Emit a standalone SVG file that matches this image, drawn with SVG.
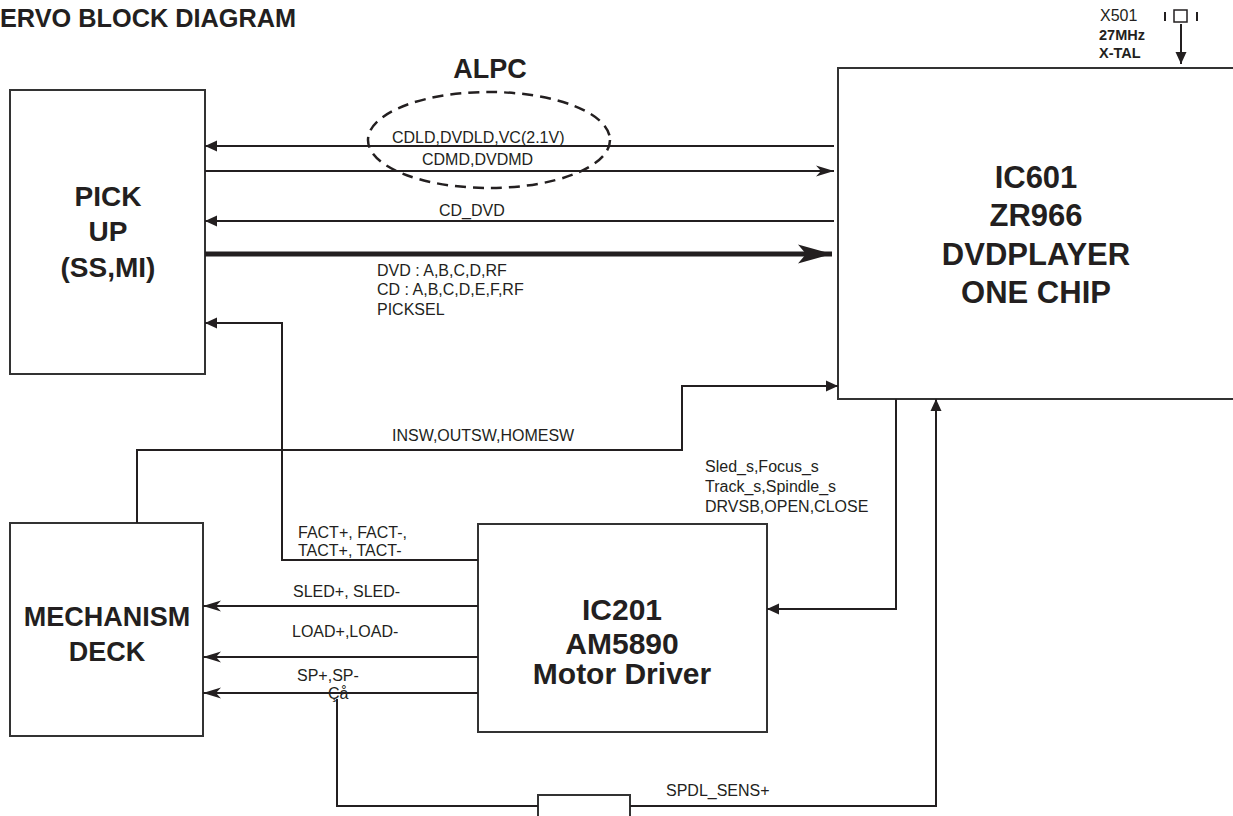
<svg xmlns="http://www.w3.org/2000/svg" width="1233" height="816" viewBox="0 0 1233 816">
<style>
.box{fill:none;stroke:#333;stroke-width:2}
.ln{fill:none;stroke:#231f20;stroke-width:2}
.thick{fill:none;stroke:#231f20;stroke-width:5}
.t{font-family:"Liberation Sans",Arial,sans-serif;font-size:16px;fill:#231f20}
.b{font-family:"Liberation Sans",Arial,sans-serif;font-weight:bold;fill:#231f20}
</style>
<defs>
<marker id="tri" markerUnits="userSpaceOnUse" markerWidth="14" markerHeight="14" viewBox="0 -7 14 14" refX="12" refY="0" orient="auto">
<path d="M0,-5.5 L12,0 L0,5.5 Z" fill="#231f20"/>
</marker>
<marker id="sw" markerUnits="userSpaceOnUse" markerWidth="20" markerHeight="14" viewBox="0 -7 20 14" refX="18" refY="0" orient="auto">
<path d="M0,-5.5 L18,0 L0,5.5 L5,0 Z" fill="#231f20"/>
</marker>
<marker id="swT" markerUnits="userSpaceOnUse" markerWidth="36" markerHeight="22" viewBox="0 -11 36 22" refX="34" refY="0" orient="auto">
<path d="M0,-9.5 L34,0 L0,9.5 L8,0 Z" fill="#231f20"/>
</marker>
</defs>
<text class="b" x="0" y="27" font-size="25.3">ERVO BLOCK DIAGRAM</text>
<g id="pickup">
<rect class="box" x="10" y="90" width="195" height="284"/>
<text class="b" font-size="28" text-anchor="middle" x="108" y="206">PICK</text>
<text class="b" font-size="28" text-anchor="middle" x="108" y="241">UP</text>
<text class="b" font-size="28" text-anchor="middle" x="108" y="277">(SS,MI)</text>
</g>
<g id="ic601">
<path class="box" d="M1240,68 H838 V399 H1240"/>
<text class="b" font-size="31" text-anchor="middle" x="1036" y="188">IC601</text>
<text class="b" font-size="31" text-anchor="middle" x="1036" y="226">ZR966</text>
<text class="b" font-size="31" text-anchor="middle" x="1036" y="265">DVDPLAYER</text>
<text class="b" font-size="31" text-anchor="middle" x="1036" y="303">ONE CHIP</text>
</g>
<g id="mech">
<rect class="box" x="10" y="523" width="193" height="213"/>
<text class="b" font-size="27" text-anchor="middle" x="107" y="626">MECHANISM</text>
<text class="b" font-size="27" text-anchor="middle" x="107" y="661">DECK</text>
</g>
<g id="ic201">
<rect class="box" x="478" y="524" width="289" height="208"/>
<text class="b" font-size="30" text-anchor="middle" x="622" y="620">IC201</text>
<text class="b" font-size="30" text-anchor="middle" x="622" y="654">AM5890</text>
<text class="b" font-size="30" text-anchor="middle" x="622" y="684">Motor Driver</text>
</g>
<g id="sensor">
<rect class="box" x="538" y="795" width="92" height="30"/>
</g>
<g id="xtal">
<text class="t" x="1100" y="21" font-size="15">X501</text>
<text class="b" x="1099" y="40" font-size="14.5">27MHz</text>
<text class="b" x="1099" y="58" font-size="14.5">X-TAL</text>
<line class="ln" x1="1165" y1="12" x2="1165" y2="21" stroke-width="1.5"/>
<rect x="1174" y="10" width="13" height="12" fill="none" stroke="#231f20" stroke-width="1.5"/>
<line class="ln" x1="1197" y1="12" x2="1197" y2="21" stroke-width="1.5"/>
</g>
<g id="alpc">
<text class="b" font-size="27" text-anchor="middle" x="490" y="78">ALPC</text>
<ellipse cx="489" cy="140" rx="121" ry="48" fill="none" stroke="#231f20" stroke-width="2.5" stroke-dasharray="11,7"/>
</g>
<g id="connectors">
<path class="ln" d="M834,146 H205" marker-end="url(#tri)"/>
<path class="ln" d="M205,171 H834" marker-end="url(#sw)"/>
<path class="ln" d="M834,221 H205" marker-end="url(#tri)"/>
<path class="thick" d="M205,254 H832" marker-end="url(#swT)"/>
<path class="ln" d="M478,560 H282 V323 H205" marker-end="url(#tri)"/>
<path class="ln" d="M137,523 V450 H682 V386 H838" marker-end="url(#tri)"/>
<path class="ln" d="M896,399 V609 H767" marker-end="url(#tri)"/>
<path class="ln" d="M337,699 V806 H538"/>
<path class="ln" d="M630,806 H936 V399" marker-end="url(#tri)"/>
<path class="ln" d="M478,606 H203" marker-end="url(#sw)"/>
<path class="ln" d="M478,657 H203" marker-end="url(#sw)"/>
<path class="ln" d="M478,693 H203" marker-end="url(#sw)"/>
<path class="ln" d="M1181,24 V64" marker-end="url(#tri)"/>
</g>
<g id="labels">
<text class="t" x="392" y="143">CDLD,DVDLD,VC(2.1V)</text>
<text class="t" x="422" y="165">CDMD,DVDMD</text>
<text class="t" x="439" y="216">CD_DVD</text>
<text class="t" x="377" y="276">DVD : A,B,C,D,RF</text>
<text class="t" x="377" y="295">CD : A,B,C,D,E,F,RF</text>
<text class="t" x="377" y="315">PICKSEL</text>
<text class="t" x="392" y="441">INSW,OUTSW,HOMESW</text>
<text class="t" x="705" y="472">Sled_s,Focus_s</text>
<text class="t" x="705" y="492">Track_s,Spindle_s</text>
<text class="t" x="705" y="512">DRVSB,OPEN,CLOSE</text>
<text class="t" x="298" y="538">FACT+, FACT-,</text>
<text class="t" x="298" y="556">TACT+, TACT-</text>
<text class="t" x="293" y="597">SLED+, SLED-</text>
<text class="t" x="292" y="637">LOAD+,LOAD-</text>
<text class="t" x="297" y="681">SP+,SP-</text>
<text class="t" x="328" y="699">Çå</text>
<text class="t" x="666" y="796">SPDL_SENS+</text>
</g>
</svg>
